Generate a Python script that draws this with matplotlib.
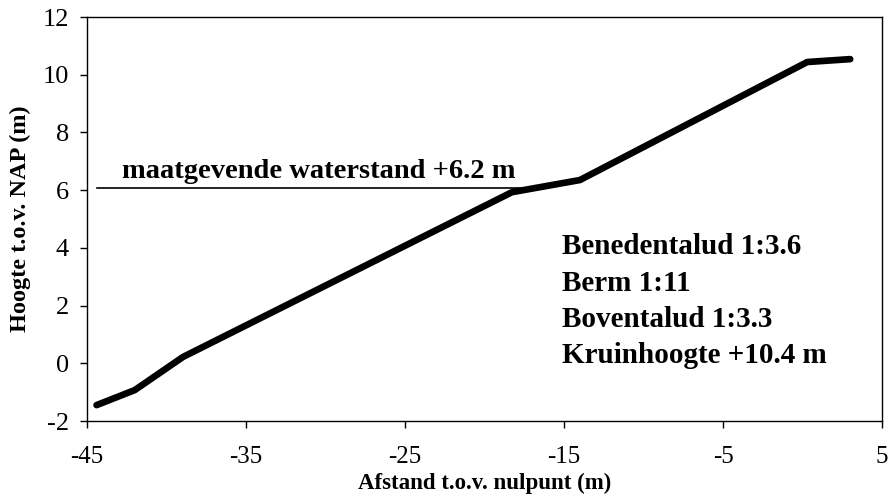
import numpy as np
import matplotlib.pyplot as plt

# Dijkprofiel: afstand t.o.v. nulpunt (m) en hoogte t.o.v. NAP (m)
afstand = [-44.4, -42.0, -38.96, -18.27, -14.0, 0.3, 3.0]
hoogte = [-1.45, -0.93, 0.22, 5.93, 6.35, 10.44, 10.54]

# Maatgevende waterstand, getekend tot het snijpunt met het talud
water_x = [-44.4, -16.9]
water_y = [6.07, 6.07]

info = ["Benedentalud 1:3.6", "Berm 1:11", "Boventalud 1:3.3",
        "Kruinhoogte +10.4 m"]

plt.rcParams['font.family'] = ['Liberation Serif', 'DejaVu Serif']
plt.rcParams['axes.unicode_minus'] = False

fig = plt.figure(figsize=(8.92, 4.97), dpi=100)
ax = fig.add_axes([87 / 892, 1 - 421 / 497, (882 - 87) / 892, (421 - 17) / 497])

ax.plot(water_x, water_y, color='black', lw=1.2)
ax.plot(afstand, hoogte, color='black', lw=4.8, solid_capstyle='round',
        solid_joinstyle='round')

ax.text(-42.8, 6.22, "maatgevende waterstand +6.2 m", fontsize=20.5,
        fontweight='bold', ha='left', va='bottom')
for i, regel in enumerate(info):
    ax.text(-15.1, 4.03 - i * 1.25, regel, fontsize=21, fontweight='bold',
            ha='left', va='center')

ax.set_xlim(-45, 5)
ax.set_ylim(-2, 12)
ax.set_xticks(np.arange(-45, 6, 10))
ax.set_yticks(np.arange(-2, 13, 2))
ax.tick_params(direction='out', length=5, width=1, labelsize=19)
ax.tick_params(axis='x', labelsize=18, pad=13)
ax.tick_params(axis='y', pad=8)
for s in ax.spines.values():
    s.set_linewidth(1)

fig.text(485 / 892, 1 - 489 / 497, "Afstand t.o.v. nulpunt (m)", fontsize=16.5,
         fontweight='bold', ha='center', va='baseline')
ax.set_ylabel("Hoogte t.o.v. NAP (m)", fontsize=17.5, fontweight='bold',
              labelpad=8)

fig.savefig("out.png", dpi=100)
